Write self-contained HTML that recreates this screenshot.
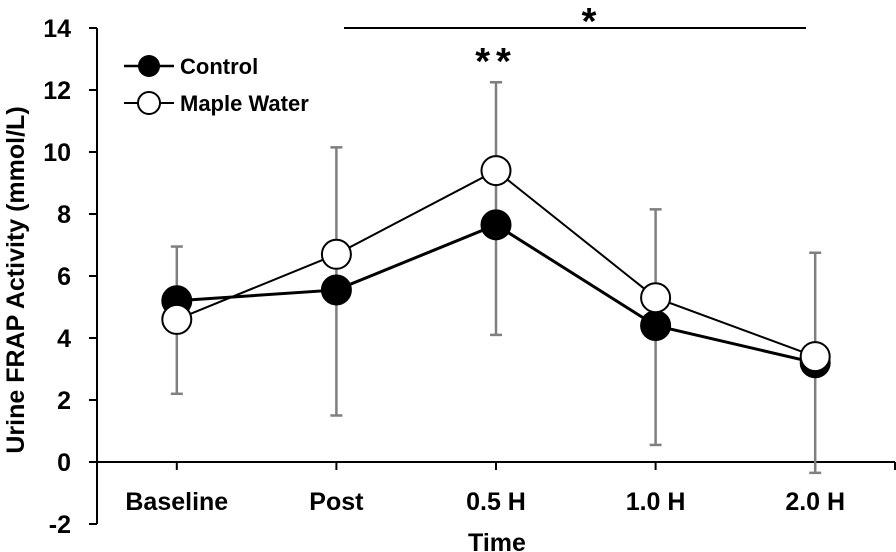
<!DOCTYPE html>
<html><head><meta charset="utf-8"><style>
html,body{margin:0;padding:0;background:#fff;}
svg{display:block;font-family:"Liberation Sans",sans-serif;font-weight:bold;}
</style></head><body>
<svg id="chart" width="896" height="552">
<g id="axes"></g>
<g id="errs"></g>
<g id="series"></g>
<g>
 <line x1="124" y1="66" x2="174" y2="66" stroke="#000" stroke-width="2.5"/>
 <circle cx="149" cy="66" r="11" fill="#000"/>
 <text x="180" y="74" font-size="22" font-weight="bold">Control</text>
 <line x1="124" y1="103" x2="174" y2="103" stroke="#000" stroke-width="2"/>
 <circle cx="149" cy="103" r="11" fill="#fff" stroke="#000" stroke-width="2"/>
 <text x="180" y="111" font-size="22" font-weight="bold">Maple Water</text>
</g>
<line x1="344" y1="28" x2="806" y2="28" stroke="#000" stroke-width="2"/>
<text x="589" y="34" font-size="38" text-anchor="middle">*</text>
<text x="496" y="74" font-size="38" text-anchor="middle" letter-spacing="6">**</text>
<text x="0" y="0" transform="translate(24,280) rotate(-90)" font-size="25" font-weight="bold" text-anchor="middle">Urine FRAP Activity (mmol/L)</text>
<text x="497" y="551" font-size="25" font-weight="bold" text-anchor="middle">Time</text>
</svg>
<script>
const categories=["Baseline","Post","0.5 H","1.0 H","2.0 H"];
const controlValues=[5.2,5.55,7.65,4.4,3.2];
const mapleValues=[4.6,6.7,9.4,5.3,3.4];
const errUpper=[6.95,10.15,12.25,8.15,6.75];
const errLower=[2.2,1.5,4.1,0.55,-0.35];
const yTicks=[-2,0,2,4,6,8,10,12,14];
const NS="http://www.w3.org/2000/svg";
const x0=97,x1=895,y0=462,yPer=31;
function xs(i){return x0+(x1-x0)/categories.length*(i+0.5);}
function ys(v){return y0-v*yPer;}
function mk(t,a,p){const e=document.createElementNS(NS,t);for(const k in a)e.setAttribute(k,a[k]);p.appendChild(e);return e;}
const ax=document.getElementById('axes');
let l=mk('line',{x1:x0,y1:ys(14),x2:x0,y2:ys(-2),stroke:'#000','stroke-width':2},ax);


l=mk('line',{x1:x0,y1:y0,x2:x1,y2:y0,stroke:'#000','stroke-width':2},ax);


mk('line',{x1:x1,y1:y0,x2:x1,y2:y0+8,stroke:'#000','stroke-width':2},ax);
yTicks.forEach(v=>{
 mk('line',{x1:x0-8,y1:ys(v),x2:x0,y2:ys(v),stroke:'#000','stroke-width':2},ax);
 const t=mk('text',{x:x0-26,y:ys(v)+9,'font-size':25,'font-weight':'bold','text-anchor':'end'},ax);
 t.textContent=v;
 
 
});
categories.forEach((c,i)=>{
 mk('line',{x1:xs(i),y1:y0,x2:xs(i),y2:y0+8,stroke:'#000','stroke-width':2},ax);
 const t=mk('text',{x:xs(i),y:510,'font-size':25,'font-weight':'bold','text-anchor':'middle'},ax);
 t.textContent=c;
 
 
});
const eg=document.getElementById('errs');
categories.forEach((c,i)=>{
 const g=mk('g',{stroke:'#7f7f7f','stroke-width':2.5},eg);
 
 
 mk('line',{x1:xs(i),y1:ys(errUpper[i]),x2:xs(i),y2:ys(errLower[i])},g);
 mk('line',{x1:xs(i)-6,y1:ys(errUpper[i]),x2:xs(i)+6,y2:ys(errUpper[i])},g);
 mk('line',{x1:xs(i)-6,y1:ys(errLower[i]),x2:xs(i)+6,y2:ys(errLower[i])},g);
});
const sg=document.getElementById('series');
function series(vals,fill,w,name){
 const g=mk('g',{},sg);
 
 
 mk('polyline',{points:vals.map((v,i)=>xs(i)+','+ys(v)).join(' '),fill:'none',stroke:'#000','stroke-width':w},g);
 vals.forEach((v,i)=>{
  const c=mk('circle',{cx:xs(i),cy:ys(v),r:14.5,fill:fill,stroke:'#000','stroke-width':2},g);
  
  
 });
}
series(controlValues,'#000',3,'control-series');
series(mapleValues,'#fff',2,'maple-water-series');
</script>
</body></html>
